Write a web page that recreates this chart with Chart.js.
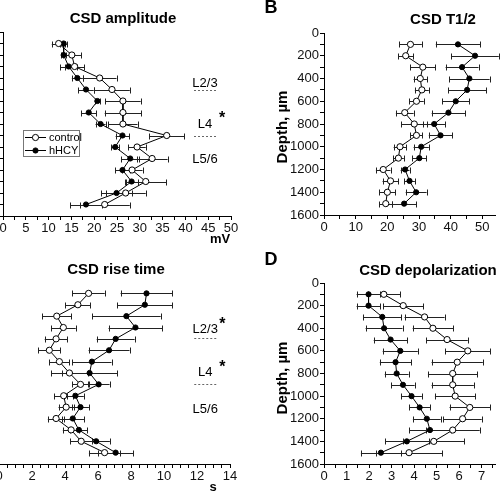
<!DOCTYPE html>
<html>
<head>
<meta charset="utf-8">
<script src="https://cdn.jsdelivr.net/npm/chart.js@4.4.0/dist/chart.umd.min.js"></script>
<style>
  body { margin: 0; width: 500px; height: 493px; overflow: hidden; position: relative; background: #fff; }
  canvas { position: absolute; }
</style>
</head>
<body>
<canvas id="chartA"></canvas>
<canvas id="chartB"></canvas>
<canvas id="chartC"></canvas>
<canvas id="chartD"></canvas>
<script>
// depth of each recording point, µm
const depths = [100, 200, 300, 400, 500, 600, 700, 800, 900, 1000, 1100, 1200, 1300, 1400, 1500];

// A - CSD amplitude, mV
const ampControl    = [12.2, 15.1, 15.7, 21.2, 23.9, 26.3, 26.3, 26.3, 35.9, 29.4, 32.7, 28.3, 31.3, 26.9, 22.3];
const ampControlErr = [1.5, 2.0, 2.1, 3.7, 3.9, 3.9, 4.0, 3.2, 3.8, 1.9, 3.4, 2.3, 4.5, 4.4, 5.5];
const ampHcy        = [13.3, 13.3, 14.4, 16.3, 18.2, 20.7, 18.8, 21.4, 26.2, 24.6, 27.9, 26.2, 28.2, 24.9, 18.2];
const ampHcyErr     = [0.7, 0.6, 1.8, 1.2, 1.7, 0.6, 1.7, 1.1, 1.5, 0.9, 2.0, 1.6, 1.3, 3.3, 3.5];

// B - CSD T1/2
const t12Control    = [27.3, 25.8, 31.2, 30.4, 30.9, 29.2, 25.5, 28.5, 29.2, 24.0, 23.5, 18.7, 21.0, 20.0, 19.5];
const t12ControlErr = [3.6, 2.3, 4.0, 2.1, 2.2, 2.3, 2.8, 4.1, 1.9, 2.0, 1.7, 2.3, 2.5, 2.5, 2.1];
const t12Hcy        = [42.3, 47.7, 43.6, 45.9, 45.2, 41.6, 39.3, 34.8, 36.8, 30.7, 30.1, 25.6, 27.0, 29.1, 25.3];
const t12HcyErr     = [7.0, 7.5, 5.2, 6.4, 6.0, 4.2, 5.3, 3.4, 3.7, 2.4, 2.2, 1.4, 1.7, 3.3, 3.9];

// C - CSD rise time, s
const riseControl    = [5.43, 4.78, 3.5, 3.9, 3.46, 3.05, 3.66, 4.27, 4.94, 3.92, 4.07, 3.46, 4.37, 4.98, 6.4];
const riseControlErr = [0.98, 0.76, 0.87, 0.75, 0.69, 0.66, 0.61, 1.1, 0.51, 0.58, 0.46, 0.5, 0.5, 0.66, 0.95];
const riseHcy        = [8.94, 8.84, 7.72, 8.27, 7.07, 6.67, 5.63, 5.49, 6.04, 4.63, 4.94, 4.47, 4.84, 5.89, 7.07];
const riseHcyErr     = [1.57, 1.67, 2.08, 1.63, 1.15, 1.24, 1.19, 1.69, 0.66, 0.51, 0.51, 0.68, 0.51, 0.83, 1.05];

// D - CSD depolarization
const depolControl    = [2.66, 3.52, 4.47, 4.84, 5.47, 6.39, 5.92, 5.72, 5.72, 5.83, 6.48, 6.16, 5.72, 4.88, 3.78];
const depolControlErr = [0.72, 0.88, 0.89, 0.9, 0.92, 1.0, 1.14, 1.1, 0.94, 0.9, 0.9, 0.85, 1.2, 1.35, 1.47];
const depolHcy        = [1.98, 1.98, 2.59, 2.67, 2.96, 3.39, 3.18, 3.23, 3.51, 3.89, 4.25, 4.57, 4.71, 3.68, 2.53];
const depolHcyErr     = [0.53, 0.53, 0.84, 0.82, 0.75, 0.78, 0.7, 0.53, 0.52, 0.46, 0.46, 0.62, 0.93, 0.97, 0.89];

// cortical layer marks (A and C)
const layerNames = ["L2/3", "L4", "L5/6"];
const ampLayerDepth = [445, 800, 1110];
const ampLayerBorders = [505, 900];
const ampLayerStars = [false, true, false];
const riseLayerDepth = [421, 798, 1123];
const riseLayerBorders = [491, 895];
const riseLayerStars = [true, true, false];

const FONT = "'Liberation Sans', Arial, sans-serif";

// horizontal error bars, drawn through the chart scales
const errorBars = {
  id: "errorBars",
  beforeDatasetsDraw(chart) {
    const ctx = chart.ctx;
    const xs = chart.scales.x, ys = chart.scales.y;
    ctx.save();
    ctx.strokeStyle = "#222";
    ctx.lineWidth = 1;
    chart.data.datasets.forEach((ds) => {
      if (!ds.errors) return;
      ds.data.forEach((p, i) => {
        const e = ds.errors[i];
        const x0 = xs.getPixelForValue(p.x - e);
        const x1 = xs.getPixelForValue(p.x + e);
        const py = Math.round(ys.getPixelForValue(p.y)) + 0.5;
        ctx.beginPath();
        ctx.moveTo(x0, py); ctx.lineTo(x1, py);
        ctx.moveTo(Math.round(x0) + 0.5, py - 3); ctx.lineTo(Math.round(x0) + 0.5, py + 3);
        ctx.moveTo(Math.round(x1) + 0.5, py - 3); ctx.lineTo(Math.round(x1) + 0.5, py + 3);
        ctx.stroke();
      });
    });
    ctx.restore();
  },
};

// titles, panel letters, layer labels, legend
function decor(box, spec) {
  return {
    id: "decor",
    afterDraw(chart) {
      const ctx = chart.ctx;
      const xs = chart.scales.x, ys = chart.scales.y;
      ctx.save();
      ctx.fillStyle = "#000";
      ctx.textAlign = "center";
      ctx.textBaseline = "middle";
      (spec.texts || []).forEach((t) => {
        ctx.save();
        ctx.font = t.font;
        ctx.translate(t.x - box.left, t.y - box.top);
        if (t.rotate) ctx.rotate(-Math.PI / 2);
        ctx.fillText(t.text, 0, 0);
        ctx.restore();
      });
      if (spec.layers) {
        const L = spec.layers;
        const lx = xs.getPixelForValue(L.x);
        ctx.font = "13px " + FONT;
        layerNames.forEach((name, i) => {
          const ly = ys.getPixelForValue(L.depth[i]);
          ctx.fillText(name, lx, ly);
          if (L.stars[i]) {
            ctx.font = "bold 16px " + FONT;
            ctx.fillText("*", lx + 17, ly - 5);
            ctx.font = "13px " + FONT;
          }
        });
        ctx.strokeStyle = "#666";
        ctx.lineWidth = 1;
        ctx.setLineDash([2, 2]);
        L.borders.forEach((d) => {
          const by = Math.round(ys.getPixelForValue(d)) + 0.5;
          ctx.beginPath();
          ctx.moveTo(lx - 11, by);
          ctx.lineTo(lx + 11, by);
          ctx.stroke();
        });
        ctx.setLineDash([]);
      }
      if (spec.legend) {
        const g = spec.legend;
        const gx = g.x - box.left, gy = g.y - box.top;
        ctx.strokeStyle = "#777";
        ctx.lineWidth = 1;
        ctx.strokeRect(gx + 0.5, gy + 0.5, g.w, g.h);
        chart.data.datasets.forEach((ds, i) => {
          const iy = gy + 7.5 + i * 13;
          ctx.strokeStyle = "#000";
          ctx.beginPath();
          ctx.moveTo(gx + 2, iy); ctx.lineTo(gx + 23, iy);
          ctx.stroke();
          ctx.beginPath();
          ctx.arc(gx + 12.5, iy, ds.pointRadius, 0, Math.PI * 2);
          ctx.fillStyle = ds.pointBackgroundColor;
          ctx.fill();
          ctx.stroke();
          ctx.fillStyle = "#000";
          ctx.textAlign = "left";
          ctx.font = "11px " + FONT;
          ctx.fillText(ds.label, gx + 26, iy + 0.5);
        });
      }
      ctx.restore();
    },
  };
}

function series(values, errors, filled, label) {
  return {
    label: label,
    data: values.map((v, i) => ({ x: v, y: depths[i] })),
    errors: errors,
    showLine: true,
    borderColor: "#000",
    borderWidth: 1,
    pointRadius: filled ? 2.6 : 3.1,
    pointBorderWidth: 1,
    pointBorderColor: "#000",
    pointBackgroundColor: filled ? "#000" : "#fff",
    order: filled ? 2 : 1,
  };
}

function makePanel(id, box, area, xAxis, datasets, spec) {
  const canvas = document.getElementById(id);
  canvas.width = box.width;
  canvas.height = box.height;
  canvas.style.left = box.left + "px";
  canvas.style.top = box.top + "px";

  const tickFont = { family: FONT, size: 13 };
  const isMajor = (v, step) => Math.abs(v / step - Math.round(v / step)) < 1e-6;

  return new Chart(canvas.getContext("2d"), {
    type: "scatter",
    data: { datasets: datasets },
    options: {
      responsive: false,
      animation: false,
      events: [],
      layout: {
        padding: {
          left: 0,
          top: area.top - box.top,
          right: box.left + box.width - area.right,
          bottom: 0,
        },
      },
      plugins: { legend: { display: false }, tooltip: { enabled: false } },
      scales: {
        x: {
          type: "linear",
          position: "bottom",
          min: 0,
          max: xAxis.max,
          afterFit: (s) => { s.height = box.top + box.height - area.bottom; },
          afterBuildTicks: (s) => {
            const t = [];
            for (let v = 0; v <= xAxis.max + 1e-9; v += xAxis.minor) t.push({ value: +v.toFixed(4) });
            s.ticks = t;
          },
          ticks: {
            font: tickFont,
            color: "#111",
            padding: 1,
            autoSkip: false,
            maxRotation: 0,
            callback: (v) => (isMajor(v, xAxis.major) ? String(v) : ""),
          },
          grid: { drawOnChartArea: false, tickLength: 4, color: "#000" },
          border: { color: "#000", width: 1 },
        },
        y: {
          type: "linear",
          position: "left",
          reverse: true,
          min: 0,
          max: 1600,
          afterFit: (s) => { s.width = area.left - box.left; },
          afterBuildTicks: (s) => {
            const t = [];
            for (let v = 0; v <= 1600; v += 100) t.push({ value: v });
            s.ticks = t;
          },
          ticks: {
            font: tickFont,
            color: "#111",
            padding: 1,
            autoSkip: false,
            callback: (v) => (v % 200 === 0 ? String(v) : ""),
          },
          grid: { drawOnChartArea: false, tickLength: 4, color: "#000" },
          border: { color: "#000", width: 1 },
        },
      },
    },
    plugins: [errorBars, decor(box, spec)],
  });
}

const boxA = { left: -50, top: 0, width: 295, height: 250 };
makePanel("chartA", boxA, { left: 3, right: 231, top: 32, bottom: 216 },
  { max: 50, major: 5, minor: 2.5 },
  [series(ampControl, ampControlErr, false, "control"), series(ampHcy, ampHcyErr, true, "hHCY")],
  {
    texts: [
      { text: "CSD amplitude", x: 123, y: 19, font: "bold 15px " + FONT },
      { text: "mV", x: 220, y: 239, font: "bold 13px " + FONT },
    ],
    layers: { x: 44.3, depth: ampLayerDepth, borders: ampLayerBorders, stars: ampLayerStars },
    legend: { x: 23, y: 130, w: 56, h: 26 },
  });

const boxB = { left: 250, top: 0, width: 250, height: 250 };
makePanel("chartB", boxB, { left: 324, right: 500, top: 33, bottom: 215 },
  { max: 54, major: 10, minor: 5 },
  [series(t12Control, t12ControlErr, false, "control"), series(t12Hcy, t12HcyErr, true, "hHCY")],
  {
    texts: [
      { text: "B", x: 271, y: 8, font: "bold 18px " + FONT },
      { text: "CSD T1/2", x: 443, y: 20, font: "bold 15px " + FONT },
      { text: "Depth, µm", x: 283, y: 127, font: "bold 15px " + FONT, rotate: true },
    ],
  });

const boxC = { left: -50, top: 250, width: 295, height: 243 };
makePanel("chartC", boxC, { left: -1, right: 230, top: 282, bottom: 464 },
  { max: 14, major: 2, minor: 0.5 },
  [series(riseControl, riseControlErr, false, "control"), series(riseHcy, riseHcyErr, true, "hHCY")],
  {
    texts: [
      { text: "CSD rise time", x: 116, y: 270, font: "bold 15px " + FONT },
      { text: "s", x: 213, y: 487, font: "bold 13px " + FONT },
    ],
    layers: { x: 12.5, depth: riseLayerDepth, borders: riseLayerBorders, stars: riseLayerStars },
  });

const boxD = { left: 250, top: 250, width: 250, height: 243 };
makePanel("chartD", boxD, { left: 324, right: 500, top: 283, bottom: 464 },
  { max: 7.6, major: 1, minor: 0.5 },
  [series(depolControl, depolControlErr, false, "control"), series(depolHcy, depolHcyErr, true, "hHCY")],
  {
    texts: [
      { text: "D", x: 271, y: 260, font: "bold 18px " + FONT },
      { text: "CSD depolarization", x: 428, y: 271, font: "bold 15px " + FONT },
      { text: "Depth, µm", x: 283, y: 378, font: "bold 15px " + FONT, rotate: true },
    ],
  });
</script>
</body>
</html>
